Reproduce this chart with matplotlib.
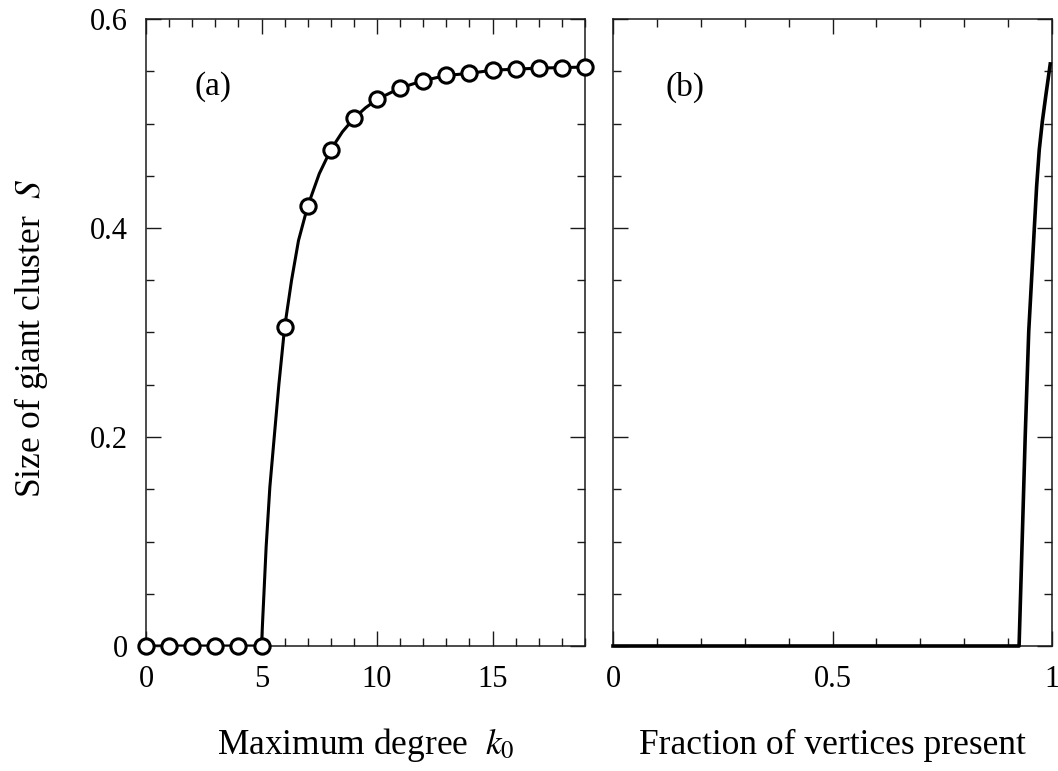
import numpy as np
import matplotlib
matplotlib.use("Agg")
import matplotlib.pyplot as plt
from matplotlib.ticker import MultipleLocator, FixedLocator

# ---- data ----
k_points = [0, 1, 2, 3, 4, 5, 6, 7, 8, 9, 10, 11, 12, 13, 14, 15, 16, 17, 18, 19]
S_points = [0, 0, 0, 0, 0, 0, 0.305, 0.421, 0.475, 0.505, 0.523, 0.534, 0.541,
            0.546, 0.548, 0.551, 0.552, 0.553, 0.5535, 0.554]

# continuous curve in panel (a)
curve_k = [0, 5.0, 5.05, 5.1, 5.2, 5.36, 5.55, 5.75, 6.0, 6.3, 6.6, 7.0, 7.5,
           8.0, 8.5, 9.0, 9.5, 10, 11, 12, 13, 14, 15, 16, 17, 18, 19]
curve_S = [0, 0, 0.025, 0.048, 0.095, 0.152, 0.2, 0.25, 0.305, 0.35, 0.388, 0.421,
           0.452, 0.475, 0.492, 0.505, 0.515, 0.523, 0.534, 0.541, 0.546, 0.548,
           0.551, 0.552, 0.553, 0.5535, 0.554]

# panel (b): fraction of vertices present vs S
frac = [0.0, 0.925, 0.932, 0.939, 0.947, 0.954, 0.960, 0.965, 0.971, 0.978, 0.986, 0.996]
S_frac = [0.0, 0.0, 0.100, 0.201, 0.301, 0.355, 0.402, 0.440, 0.475, 0.502, 0.527, 0.557]

a_xticks = [0, 5, 10, 15]
a_yticks = [0, 0.2, 0.4, 0.6]
a_yticklabels = ["0", "0.2", "0.4", "0.6"]
b_xticks = [0, 0.5, 1]
b_xticklabels = ["0", "0.5", "1"]

plt.rcParams["font.family"] = ["Liberation Serif", "DejaVu Serif"]
plt.rcParams["mathtext.fontset"] = "stix"

W, H = 1058, 771
fig = plt.figure(figsize=(W / 100, H / 100), dpi=100)
fig.patch.set_facecolor("white")

ax1 = fig.add_axes([146 / W, 1 - 646 / H, (585 - 146) / W, (646 - 19) / H])
ax2 = fig.add_axes([613 / W, 1 - 646 / H, (1052 - 613) / W, (646 - 19) / H])

for ax in (ax1, ax2):
    for s in ax.spines.values():
        s.set_linewidth(1.1)
        s.set_color("#1a1a1a")
    ax.tick_params(which="both", direction="in", top=True, right=True, color="#1a1a1a")
    ax.tick_params(which="major", length=11, width=1.0, labelsize=22, pad=14)
    ax.tick_params(which="minor", length=6, width=1.0)
    ax.set_ylim(0, 0.6)
    ax.yaxis.set_major_locator(FixedLocator(a_yticks))
    ax.yaxis.set_minor_locator(MultipleLocator(0.05))

# panel (a)
ax1.plot(curve_k, curve_S, color="black", lw=2.2, zorder=3)
ax1.plot(k_points, S_points, linestyle="none", marker="o", ms=11, mfc="white",
         mec="black", mew=2.2, zorder=4, clip_on=False)
ax1.set_xlim(0, 19)
ax1.xaxis.set_major_locator(FixedLocator(a_xticks))
ax1.xaxis.set_minor_locator(MultipleLocator(1))
ax1.set_yticklabels(a_yticklabels)
ax1.tick_params(axis="y", pad=13)
ax1.set_xlabel("Maximum degree  $k_0$", fontsize=25.5)
ax1.set_ylabel("Size of giant cluster  $S$", fontsize=25.5)
ax1.yaxis.set_label_coords((50 - 146) / 439, (646 - 338) / 627)
ax1.text(2.9, 0.535, "(a)", fontsize=24, ha="center", va="center")

# panel (b)
ax2.plot(frac, S_frac, color="black", lw=2.6, zorder=3, clip_on=False)
ax2.set_xlim(0, 1)
ax2.xaxis.set_major_locator(FixedLocator(b_xticks))
ax2.xaxis.set_minor_locator(MultipleLocator(0.1))
ax2.set_xticklabels(b_xticklabels)
ax2.set_yticklabels([])
ax2.set_xlabel("Fraction of vertices present", fontsize=25.5)
ax2.text(0.164, 0.535, "(b)", fontsize=24, ha="center", va="center")

for ax in (ax1, ax2):
    ax.xaxis.label.set_verticalalignment("baseline")
    ax.xaxis.set_label_coords(0.5, (646 - 754) / 627)

fig.savefig("out.png", dpi=100, facecolor="white")
